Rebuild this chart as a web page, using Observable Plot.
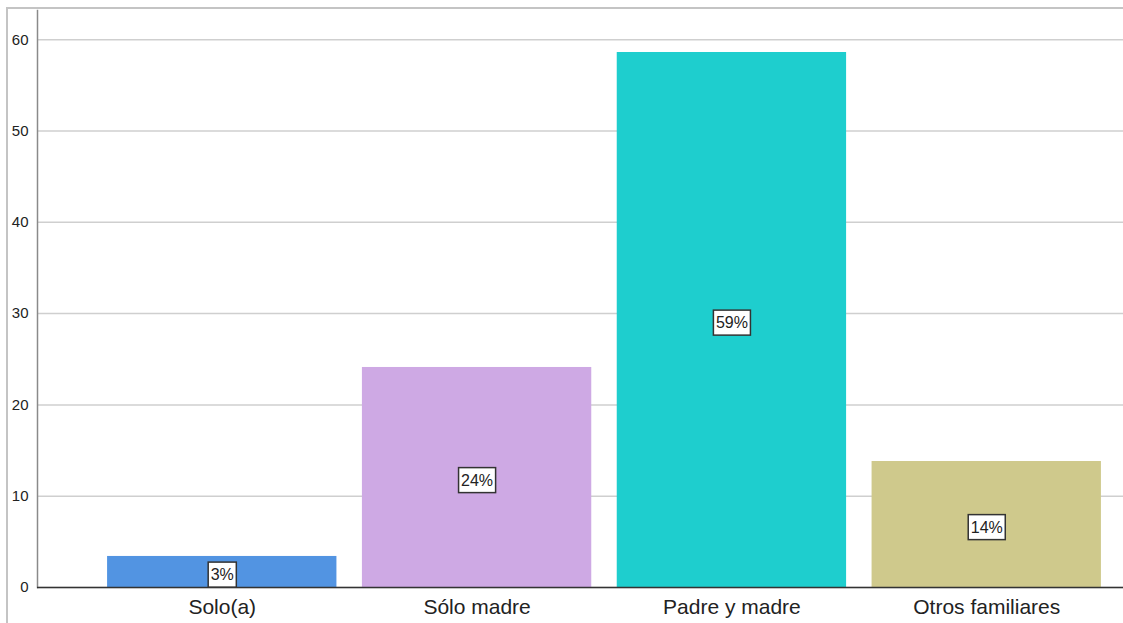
<!DOCTYPE html>
<html>
<head>
<meta charset="utf-8">
<script src="https://cdn.jsdelivr.net/npm/d3@7"></script>
<script src="https://cdn.jsdelivr.net/npm/@observablehq/plot@0.6"></script>
<style>
  html, body { margin: 0; padding: 0; background: #fff; }
  #wrap { position: relative; width: 1123px; height: 623px; overflow: hidden; }
  #frame { position: absolute; left: 6px; top: 7px; right: -2px; bottom: -2px;
           border-left: 2px solid #c4c4c4; border-top: 2px solid #c4c4c4; pointer-events: none; }
  svg { font-family: "Liberation Sans", Arial, sans-serif; }
</style>
</head>
<body>
<div id="wrap"><div id="frame"></div></div>
<script>
const categories = ["Solo(a)", "Sólo madre", "Padre y madre", "Otros familiares"];
const values = [3.4, 24.1, 58.6, 13.8];
const pctLabels = ["3%", "24%", "59%", "14%"];
const barColors = ["#5294e2", "#cea9e4", "#1ecece", "#cfc98c"];
const yTicks = [0, 10, 20, 30, 40, 50, 60];

const data = categories.map((c, i) => ({cat: c, value: values[i], label: pctLabels[i]}));

const chart = Plot.plot({
  width: 1123,
  height: 623,
  marginLeft: 37,
  marginRight: 0,
  marginTop: 10,
  marginBottom: 36,
  style: {fontFamily: '"Liberation Sans", Arial, sans-serif', background: "transparent"},
  x: {domain: categories, range: [37, 1171], paddingInner: 0.1, paddingOuter: 0.275, round: false, label: null},
  y: {domain: [0, 63.2], label: null},
  color: {domain: categories, range: barColors},
  marks: [
    Plot.gridY(yTicks, {stroke: "#cfcfcf", strokeOpacity: 1, strokeWidth: 1.5}),
    Plot.barY(data, {x: "cat", y: "value", fill: "cat"}),
    Plot.frame({anchor: "left", stroke: "#8a8a8a", strokeWidth: 1.5}),
    Plot.ruleY([0], {stroke: "#333", strokeWidth: 1.5}),
    Plot.axisY(yTicks, {tickSize: 0, tickPadding: 9, fontSize: 15, fill: "#222"}),
    Plot.axisX({tickSize: 0, tickPadding: 12, fontSize: 21, fill: "#222"}),
    Plot.text(data, {x: "cat", y: d => d.value / 2, dy: 3, text: "label", fontSize: 16, fill: "#222"})
  ]
});

document.getElementById("wrap").prepend(chart);

// white boxes behind the percentage labels
const svg = d3.select(chart);
svg.selectAll('g[aria-label="text"] text').each(function() {
  const b = this.getBBox();
  d3.select(this.parentNode).insert("rect", () => this)
    .attr("x", b.x - 2.5).attr("y", b.y - 4)
    .attr("width", b.width + 5).attr("height", b.height + 8)
    .attr("fill", "#fff").attr("stroke", "#333").attr("stroke-width", 1.5)
    .attr("transform", this.getAttribute("transform"));
});
</script>
</body>
</html>
